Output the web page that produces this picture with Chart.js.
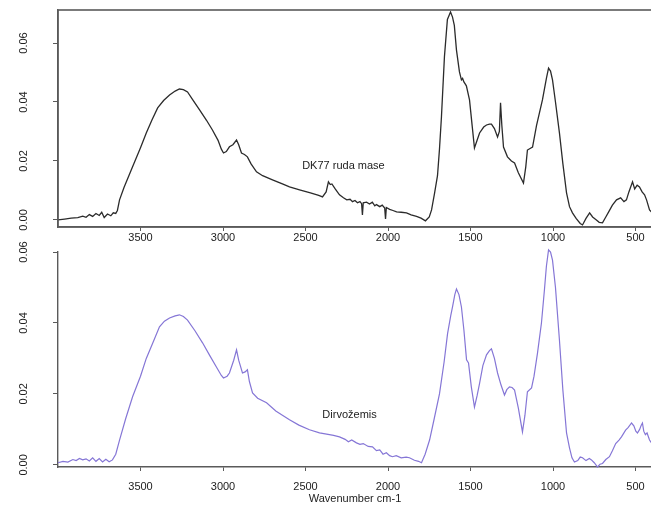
<!DOCTYPE html>
<html>
<head>
<meta charset="utf-8">
<script src="https://cdn.jsdelivr.net/npm/chart.js@4"></script>
<style>
  html, body { margin: 0; padding: 0; background: #fff; overflow: hidden; }
  #wrap { position: relative; width: 651px; height: 508px; overflow: hidden; }
  #wrap canvas { position: absolute; left: 0; }
  #topChart { top: 0; }
  #bottomChart { top: 236px; }
</style>
</head>
<body>
<div id="wrap">
  <canvas id="topChart" width="660" height="245"></canvas>
  <canvas id="bottomChart" width="660" height="272"></canvas>
</div>
<script>
const dkWavenumber = [4000, 3960, 3920, 3880, 3850, 3830, 3810, 3790, 3770, 3750, 3735, 3720, 3700, 3680, 3665, 3650, 3640, 3627, 3600, 3548,
  3500, 3465, 3430, 3396, 3360, 3324, 3290, 3264, 3240, 3215, 3180, 3142, 3100, 3064, 3030, 3010, 2997, 2980, 2961, 2940,
  2918, 2905, 2888, 2870, 2852, 2830, 2797, 2760, 2700, 2640, 2597, 2536, 2470, 2420, 2397, 2375, 2361, 2350, 2340, 2320,
  2294, 2270, 2250, 2230, 2215, 2200, 2185, 2170, 2160, 2155, 2150, 2130, 2112, 2095, 2080, 2070, 2050, 2035, 2020, 2015,
  2010, 1990, 1970, 1948, 1920, 1888, 1860, 1827, 1800, 1773, 1750, 1736, 1718, 1700, 1688, 1676, 1658, 1640, 1621, 1609,
  1598, 1585, 1567, 1555, 1548, 1540, 1525, 1506, 1490, 1476, 1460, 1445, 1420, 1403, 1385, 1373, 1355, 1336, 1325, 1318,
  1310, 1300, 1276, 1252, 1233, 1210, 1179, 1165, 1155, 1124, 1100, 1064, 1040, 1027, 1015, 1003, 985, 961, 940, 918,
  900, 882, 860, 835, 821, 800, 778, 760, 737, 720, 700, 680, 660, 640, 615, 590, 570, 555, 540, 518,
  505, 490, 476, 460, 445, 433, 415, 400];
const dkAbsorbance = [0.0000, 0.0003, 0.0006, 0.0008, 0.0013, 0.0009, 0.0018, 0.0012, 0.0022, 0.0015, 0.0026, 0.0008, 0.0020, 0.0014, 0.0024, 0.0022, 0.0032, 0.0068, 0.0110, 0.0180,
  0.0245, 0.0295, 0.0340, 0.0380, 0.0405, 0.0424, 0.0437, 0.0444, 0.0442, 0.0434, 0.0405, 0.0373, 0.0338, 0.0305, 0.0270, 0.0240, 0.0227, 0.0232, 0.0248, 0.0255,
  0.0271, 0.0255, 0.0227, 0.0222, 0.0214, 0.0190, 0.0163, 0.0150, 0.0136, 0.0122, 0.0112, 0.0102, 0.0092, 0.0083, 0.0078, 0.0095, 0.0129, 0.0120, 0.0122, 0.0105,
  0.0085, 0.0075, 0.0068, 0.0070, 0.0062, 0.0066, 0.0058, 0.0062, 0.0055, 0.0017, 0.0058, 0.0060, 0.0054, 0.0060, 0.0048, 0.0052, 0.0045, 0.0050, 0.0040, 0.0003,
  0.0042, 0.0036, 0.0032, 0.0027, 0.0026, 0.0024, 0.0017, 0.0012, 0.0006, -0.0003, 0.0010, 0.0034, 0.0090, 0.0150, 0.0240, 0.0350, 0.0553, 0.0680, 0.0705, 0.0688,
  0.0660, 0.0576, 0.0502, 0.0475, 0.0480, 0.0468, 0.0455, 0.0407, 0.0320, 0.0244, 0.0270, 0.0295, 0.0315, 0.0322, 0.0325, 0.0325, 0.0310, 0.0281, 0.0300, 0.0397,
  0.0320, 0.0247, 0.0214, 0.0200, 0.0193, 0.0160, 0.0125, 0.0180, 0.0237, 0.0247, 0.0320, 0.0407, 0.0480, 0.0515, 0.0505, 0.0475, 0.0400, 0.0295, 0.0190, 0.0092,
  0.0045, 0.0024, 0.0005, -0.0012, -0.0017, 0.0005, 0.0024, 0.0010, 0.0000, -0.0008, -0.0010, 0.0010, 0.0030, 0.0050, 0.0068, 0.0075, 0.0062, 0.0068, 0.0095, 0.0129,
  0.0105, 0.0118, 0.0112, 0.0095, 0.0085, 0.0068, 0.0034, 0.0025];

const dirvWavenumber = [4000, 3970, 3940, 3910, 3890, 3870, 3850, 3830, 3810, 3790, 3770, 3750, 3730, 3710, 3690, 3670, 3650, 3627, 3590, 3548,
  3500, 3465, 3420, 3385, 3355, 3324, 3290, 3264, 3240, 3215, 3170, 3124, 3080, 3040, 3010, 2997, 2975, 2961, 2935, 2918,
  2905, 2882, 2866, 2852, 2840, 2821, 2790, 2736, 2680, 2640, 2597, 2540, 2476, 2415, 2355, 2330, 2294, 2260, 2240, 2220,
  2191, 2170, 2150, 2120, 2094, 2070, 2050, 2030, 2010, 1990, 1973, 1950, 1920, 1890, 1870, 1840, 1815, 1797, 1775, 1748,
  1720, 1688, 1660, 1639, 1620, 1609, 1595, 1585, 1570, 1555, 1540, 1524, 1512, 1495, 1476, 1460, 1445, 1425, 1403, 1385,
  1373, 1355, 1336, 1315, 1294, 1280, 1264, 1248, 1233, 1210, 1185, 1170, 1155, 1130, 1115, 1094, 1070, 1052, 1040, 1027,
  1015, 1003, 985, 961, 940, 918, 900, 885, 870, 850, 835, 821, 800, 780, 767, 750, 730, 715, 700, 680,
  658, 640, 620, 600, 585, 560, 545, 524, 510, 498, 488, 475, 465, 458, 450, 440, 430, 415, 400];
const dirvAbsorbance = [0.0006, 0.0010, 0.0008, 0.0015, 0.0012, 0.0018, 0.0014, 0.0017, 0.0011, 0.0020, 0.0010, 0.0018, 0.0008, 0.0016, 0.0009, 0.0014, 0.0030, 0.0070, 0.0130, 0.0192,
  0.0250, 0.0300, 0.0350, 0.0389, 0.0405, 0.0414, 0.0420, 0.0423, 0.0418, 0.0408, 0.0378, 0.0344, 0.0308, 0.0276, 0.0252, 0.0245, 0.0250, 0.0259, 0.0295, 0.0324,
  0.0295, 0.0259, 0.0262, 0.0268, 0.0235, 0.0203, 0.0188, 0.0175, 0.0152, 0.0140, 0.0127, 0.0112, 0.0099, 0.0090, 0.0085, 0.0083, 0.0079, 0.0072, 0.0065, 0.0070,
  0.0062, 0.0058, 0.0060, 0.0052, 0.0051, 0.0040, 0.0042, 0.0030, 0.0034, 0.0026, 0.0023, 0.0026, 0.0020, 0.0022, 0.0020, 0.0013, 0.0010, 0.0006, 0.0030, 0.0070,
  0.0130, 0.0200, 0.0290, 0.0370, 0.0420, 0.0445, 0.0480, 0.0496, 0.0480, 0.0445, 0.0380, 0.0296, 0.0287, 0.0220, 0.0163, 0.0195, 0.0230, 0.0280, 0.0310, 0.0322,
  0.0327, 0.0300, 0.0259, 0.0225, 0.0197, 0.0212, 0.0220, 0.0218, 0.0211, 0.0160, 0.0093, 0.0140, 0.0206, 0.0217, 0.0250, 0.0315, 0.0400, 0.0493, 0.0560, 0.0606,
  0.0600, 0.0577, 0.0500, 0.0352, 0.0210, 0.0090, 0.0048, 0.0020, 0.0008, 0.0012, 0.0022, 0.0020, 0.0012, 0.0018, 0.0014, 0.0006, -0.0006, 0.0002, 0.0004, 0.0015,
  0.0023, 0.0040, 0.0060, 0.0070, 0.0079, 0.0098, 0.0105, 0.0118, 0.0110, 0.0095, 0.0090, 0.0100, 0.0112, 0.0118, 0.0095, 0.0085, 0.0090, 0.0070, 0.0060];

const xTickValues = [3500, 3000, 2500, 2000, 1500, 1000, 500];
const yTickValues = [0, 0.02, 0.04, 0.06];

const dkLabel = 'DK77 ruda mase';
const dirvLabel = 'Dirvožemis';
const xTitle = 'Wavenumber cm-1';

const FONT = "'Liberation Sans', Arial, sans-serif";
const TEXT_COLOR = '#222';
const AXIS_COLOR = '#5a5a5a';

Chart.defaults.font.family = FONT;
Chart.defaults.font.size = 11;
Chart.defaults.color = TEXT_COLOR;

const toPoints = (xs, ys) => xs.map((x, i) => ({ x: x, y: ys[i] }));

// Etiqueta de texto dentro del gráfico, ubicada en coordenadas de datos
const textLabel = (text, wn, val) => ({
    id: 'textLabel',
    afterDatasetsDraw(chart) {
        const ctx = chart.ctx;
        ctx.save();
        ctx.font = '11px ' + FONT;
        ctx.fillStyle = TEXT_COLOR;
        ctx.textAlign = 'center';
        ctx.textBaseline = 'middle';
        ctx.fillText(text, chart.scales.x.getPixelForValue(wn), chart.scales.y.getPixelForValue(val));
        ctx.restore();
    }
});

const frameBox = {
    id: 'frameBox',
    afterDraw(chart) {
        const a = chart.chartArea;
        const ctx = chart.ctx;
        ctx.save();
        ctx.strokeStyle = AXIS_COLOR;
        ctx.lineWidth = 1.6;
        ctx.strokeRect(a.left, a.top, a.right - a.left, a.bottom - a.top);
        ctx.restore();
    }
};

function makeOptions(cfg) {
    return {
        responsive: false,
        animation: false,
        devicePixelRatio: 1,
        layout: { padding: { top: cfg.padTop, right: 8, bottom: 0, left: 0 } },
        plugins: { legend: { display: false }, tooltip: { enabled: false } },
        scales: {
            x: {
                type: 'linear',
                reverse: true,
                min: 400,
                max: 4000,
                afterBuildTicks: s => { s.ticks = xTickValues.map(v => ({ value: v })); },
                afterFit: s => { s.height = cfg.xHeight; s.paddingLeft = 0; s.paddingRight = 0; },
                border: { display: true, color: AXIS_COLOR, width: 1.4 },
                grid: { display: true, drawOnChartArea: false, drawTicks: true, tickLength: 4, color: AXIS_COLOR },
                ticks: { padding: cfg.xPad, color: TEXT_COLOR, maxRotation: 0, autoSkip: false, callback: v => String(v) },
                title: cfg.title ? { display: true, text: xTitle, color: TEXT_COLOR, font: { size: 11 }, padding: { top: 0, bottom: 2 } } : { display: false }
            },
            y: {
                min: cfg.yMin,
                max: cfg.yMax,
                afterBuildTicks: s => { s.ticks = yTickValues.map(v => ({ value: v })); },
                afterFit: s => { s.width = 58; s.paddingTop = 0; s.paddingBottom = 0; },
                border: { display: true, color: AXIS_COLOR, width: 1.4 },
                grid: { display: true, drawOnChartArea: false, drawTicks: true, tickLength: 5, color: AXIS_COLOR },
                ticks: { padding: 18, color: TEXT_COLOR, minRotation: 90, maxRotation: 90, crossAlign: 'center', callback: v => v.toFixed(2) }
            }
        }
    };
}

new Chart(document.getElementById('topChart'), {
    type: 'line',
    data: {
        datasets: [{
            label: dkLabel,
            data: toPoints(dkWavenumber, dkAbsorbance),
            borderColor: '#2b2b2b',
            borderWidth: 1.3,
            pointRadius: 0,
            tension: 0,
            clip: false
        }]
    },
    options: makeOptions({ padTop: 10, xHeight: 18, xPad: 0, yMin: -0.0024, yMax: 0.0712, title: false }),
    plugins: [frameBox, textLabel(dkLabel, 2270, 0.0183)]
});

new Chart(document.getElementById('bottomChart'), {
    type: 'line',
    data: {
        datasets: [{
            label: dirvLabel,
            data: toPoints(dirvWavenumber, dirvAbsorbance),
            borderColor: '#8576d6',
            borderWidth: 1.2,
            pointRadius: 0,
            tension: 0,
            clip: false
        }]
    },
    options: makeOptions({ padTop: 16, xHeight: 41, xPad: 9, yMin: -0.0006, yMax: 0.06, title: true }),
    plugins: [textLabel(dirvLabel, 2233, 0.0141)]
});
</script>
</body>
</html>
